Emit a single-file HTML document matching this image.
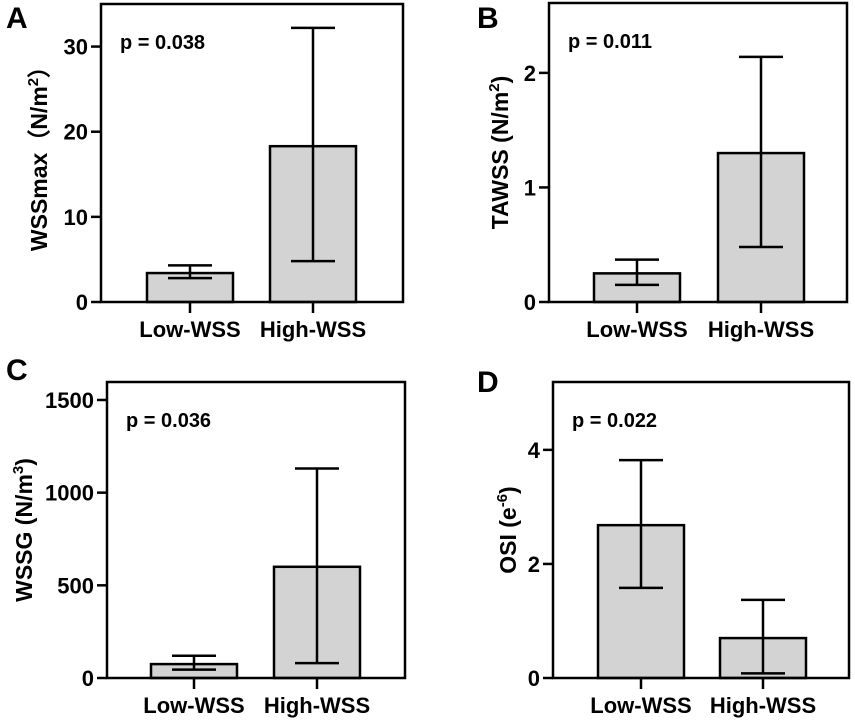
<!DOCTYPE html>
<html><head><meta charset="utf-8"><style>
html,body{margin:0;padding:0;background:#fff}
svg{display:block;font-family:"Liberation Sans",Arial,sans-serif;font-weight:bold}
</style></head><body>
<svg id="fig" width="855" height="723" viewBox="0 0 855 723"></svg>
<script>
const categories = ["Low-WSS","High-WSS"];
const meanA = [3.4, 18.3], upA = [4.3, 32.2], loA = [2.8, 4.8], ticksA = [0,10,20,30];
const meanB = [0.25, 1.30], upB = [0.37, 2.14], loB = [0.15, 0.48], ticksB = [0,1,2];
const meanC = [75, 600], upC = [120, 1130], loC = [45, 80], ticksC = [0,500,1000,1500];
const meanD = [2.68, 0.70], upD = [3.82, 1.37], loD = [1.58, 0.08], ticksD = [0,2,4];
const panels = [
 {id:"a",letter:"A",p:"p = 0.038",mean:meanA,up:upA,lo:loA,ticks:ticksA,max:35,x0:101,x1:403,y0:4,y1:302,cx:[190,313],title:"WSSmax（N/m",sup:"2",close:"）",lx:6,ly:28,tx:47},
 {id:"b",letter:"B",p:"p = 0.011",mean:meanB,up:upB,lo:loB,ticks:ticksB,max:2.61,x0:549,x1:847,y0:3,y1:302,cx:[637,761],title:"TAWSS (N/m",sup:"2",close:")",lx:477,ly:28,tx:508},
 {id:"c",letter:"C",p:"p = 0.036",mean:meanC,up:upC,lo:loC,ticks:ticksC,max:1597,x0:107,x1:405,y0:382,y1:678,cx:[194,317],title:"WSSG (N/m",sup:"3",close:")",lx:6,ly:380,tx:32},
 {id:"d",letter:"D",p:"p = 0.022",mean:meanD,up:upD,lo:loD,ticks:ticksD,max:5.19,x0:553,x1:849,y0:382,y1:678,cx:[641,763],title:"OSI (e",sup:"-6",close:")",lx:477,ly:392,tx:516}
];
const NS="http://www.w3.org/2000/svg", svg=document.getElementById("fig");
function mk(tag,attrs,parent,text){const e=document.createElementNS(NS,tag);for(const k in attrs)e.setAttribute(k,attrs[k]);if(text!==undefined)e.textContent=text;(parent||svg).appendChild(e);return e;}
panels.forEach(P=>{
 const g=mk("g",{});
 
 
 const y=v=>P.y1-(v/P.max)*(P.y1-P.y0);
 const bw=86;
 P.mean.forEach((m,i)=>{
  const r=mk("rect",{x:P.cx[i]-bw/2,y:y(m),width:bw,height:P.y1-y(m),fill:"#d3d3d3",stroke:"#000","stroke-width":2.5},g);
  
  
 });
 P.mean.forEach((m,i)=>{
  const e=mk("g",{stroke:"#000","stroke-width":2.5},g);
  
  
  mk("line",{x1:P.cx[i],x2:P.cx[i],y1:y(P.up[i]),y2:y(P.lo[i])},e);
  mk("line",{x1:P.cx[i]-22,x2:P.cx[i]+22,y1:y(P.up[i]),y2:y(P.up[i])},e);
  mk("line",{x1:P.cx[i]-22,x2:P.cx[i]+22,y1:y(P.lo[i]),y2:y(P.lo[i])},e);
 });
 const fr=mk("rect",{x:P.x0,y:P.y0,width:P.x1-P.x0,height:P.y1-P.y0,fill:"none",stroke:"#000","stroke-width":2.5},g);
 
 
 P.ticks.forEach(t=>{
  mk("line",{x1:P.x0-10,x2:P.x0,y1:y(t),y2:y(t),stroke:"#000","stroke-width":2.5},g);
  const tl=mk("text",{x:P.x0-13,y:y(t)+8,"text-anchor":"end","font-size":22},g,String(t));
  
  
 });
 categories.forEach((c,i)=>{
  mk("line",{x1:P.cx[i],x2:P.cx[i],y1:P.y1,y2:P.y1+11,stroke:"#000","stroke-width":2.5},g);
  const xl=mk("text",{x:P.cx[i],y:P.y1+35,"text-anchor":"middle","font-size":22},g,c);
  
  
 });
 const cy=(P.y0+P.y1)/2;
 const yt=mk("text",{transform:`translate(${P.tx},${cy}) rotate(-90)`,"text-anchor":"middle","font-size":23},g);
 
 
 mk("tspan",{},yt,P.title);
 mk("tspan",{"font-size":15,dy:-9},yt,P.sup);
 mk("tspan",{dy:9},yt,P.close);
 const pt=mk("text",{x:P.x0+19,y:P.y0+45,"font-size":20},g,P.p);
 
 
 const lt=mk("text",{x:P.lx,y:P.ly,"font-size":30},g,P.letter);
 
 
});
</script>
</body></html>
